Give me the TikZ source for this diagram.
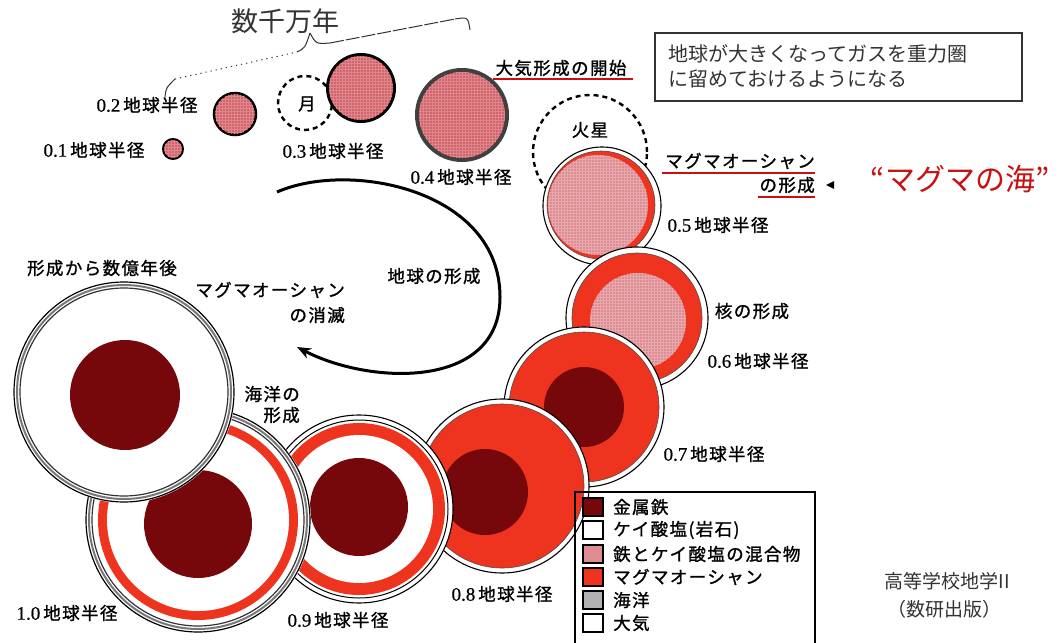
\documentclass[tikz,border=0pt]{standalone}
\usepackage{fontspec}
\setmainfont{Noto Sans CJK JP}
\newfontfamily\labfont[FakeBold=1.2, LetterSpace=8]{Noto Sans CJK JP}
\newfontfamily\numfont[FakeBold=0.6]{Liberation Serif}
\usetikzlibrary{arrows.meta,patterns}
\definecolor{plan}{RGB}{212,100,108}
\definecolor{magma}{RGB}{238,52,30}
\definecolor{mixpink}{RGB}{222,140,146}
\definecolor{ironcore}{RGB}{118,8,12}
\definecolor{oceangray}{RGB}{120,120,120}
\definecolor{notered}{RGB}{200,16,16}
\newcommand\radlab[1]{{\numfont\fontsize{19}{21}\selectfont #1}\,地球半径}
\begin{document}
\begin{tikzpicture}[x=1pt,y=-1pt,
  lbl/.style={inner sep=0pt, font=\labfont\fontsize{17.5}{21}\selectfont},
  thin lbl/.style={inner sep=0pt, text=black!80, font=\fontsize{20}{24}\selectfont},
  planet/.style={fill=plan, draw=black, line width=2.5pt},
  grain/.style={pattern=grid, pattern color=#1},
  grain/.default={plan!78!white},
  orbitdash/.style={draw=black, line width=2.4pt, dash pattern=on 5pt off 4pt},
  shell/.style={fill=white, draw=black, line width=1.1pt},
  magmafill/.style={fill=magma, draw=black!70, line width=0.6pt},
  ironfill/.style={fill=ironcore},
  mixfill/.style={fill=mixpink},
  redline/.style={draw=notered, line width=2pt},
  swatch/.style={draw=black, line width=1.1pt, minimum width=20pt, minimum height=18pt, inner sep=0pt},
]
\useasboundingbox[fill=white] (0,0) rectangle (1059,642);

% --- planetesimals growing toward the proto-Earth
\draw[orbitdash] (305,103) circle[radius=27pt];
\draw[planet, line width=2pt] (173,149) circle[radius=10pt];
\draw[planet] (235,114) circle[radius=21pt];
\draw[planet, line width=3pt] (361,88) circle[radius=33.5pt];
\draw[planet, draw=black!75, line width=4pt] (462,115) circle[radius=45pt];
\fill[grain] (173,149) circle[radius=9pt];
\fill[grain] (235,114) circle[radius=20pt];
\fill[grain] (361,88) circle[radius=32pt];
\fill[grain] (462,115) circle[radius=43pt];

% --- 0.5 Earth radius: magma ocean begins
\draw[orbitdash] (590,152) circle[radius=57pt];
\draw[shell] (602,206) circle[radius=59pt];
\draw[magmafill] (601,205) circle[radius=54pt];
\fill[mixfill] (598,205) circle[radius=50pt];
\fill[grain=mixpink!75!white] (598,205) circle[radius=50pt];

% --- 0.6 Earth radius: core formation
\draw[shell] (637,318) circle[radius=71pt];
\draw[magmafill] (637,318) circle[radius=65pt];
\fill[mixfill] (638,321) circle[radius=48pt];
\fill[grain=mixpink!75!white] (638,321) circle[radius=48pt];

% --- 0.7 Earth radius
\draw[shell] (584,407) circle[radius=80pt];
\draw[magmafill] (584,407) circle[radius=75pt];
\fill[ironfill] (584,407) circle[radius=40pt];

% --- 0.8 Earth radius
\draw[shell] (502,486) circle[radius=87pt];
\draw[magmafill] (502,486) circle[radius=82pt];
\fill[ironfill] (485,492) circle[radius=43pt];

% --- 0.9 Earth radius
\draw[shell] (359,509) circle[radius=94pt];
\draw[black, line width=1pt] (359,509) circle[radius=89pt];
\fill[magma] (359,509) circle[radius=86pt];
\fill[white] (359,509) circle[radius=74pt];
\fill[ironfill] (359,507) circle[radius=49pt];

% --- 1.0 Earth radius: ocean formed
\fill[white] (198,520) circle[radius=113pt];
\draw[black, line width=1.2pt] (198,520) circle[radius=112pt];
\draw[oceangray, line width=2pt] (198,520) circle[radius=109pt];
\draw[black!80, line width=1.2pt] (198,520) circle[radius=106pt];
\fill[magma] (198,520) circle[radius=100pt];
\fill[white] (198,520) circle[radius=91pt];
\fill[ironfill] (198,524) circle[radius=54pt];

% --- several hundred million years later
\fill[white] (124,392) circle[radius=111pt];
\draw[black, line width=1.2pt] (124,392) circle[radius=110pt];
\draw[oceangray, line width=2pt] (124,392) circle[radius=107pt];
\draw[black!80, line width=1.2pt] (124,392) circle[radius=104pt];
\fill[ironfill] (125,395) circle[radius=55pt];

% --- sweeping arrow of Earth's formation
\coordinate (sweepA) at (277,192);
\coordinate (sweepB) at (500,297);
\coordinate (sweepC) at (297,347);
\draw[line width=3pt, -{Stealth[length=14pt,width=11pt]}]
  (sweepA) .. controls (350,160) and (500,190) .. (sweepB)
           .. controls (500,390) and (370,385) .. (sweepC);

% --- brace spanning tens of millions of years
\coordinate (bL) at (165,97);
\coordinate (bLt) at (175,79);
\coordinate (bM) at (310,33);
\coordinate (bR) at (470,30);
\draw[black!80, line width=1pt] (bL) .. controls (166,88) .. (bLt);
\draw[black!80, line width=1pt, dash pattern=on 1.2pt off 4pt] (bLt) -- (297,52);
\draw[black!80, line width=1pt] (297,52) .. controls (305,48) .. (bM);
\draw[black!80, line width=1pt] (bM) .. controls (316,44) .. (330,43);
\draw[black!80, line width=1pt, dash pattern=on 14pt off 2pt] (330,43) -- (455,19);
\draw[black!80, line width=1pt] (455,19) .. controls (468,17) .. (bR);
\node[thin lbl, font=\fontsize{27}{30}\selectfont] (years) at (285,21) {数千万年};

% --- radius labels
\node[lbl] (r01) at (94,150) {\radlab{0.1}};
\node[lbl] (r02) at (147,105) {\radlab{0.2}};
\node[lbl] (r03) at (333,151) {\radlab{0.3}};
\node[lbl] (r04) at (461,177) {\radlab{0.4}};
\node[lbl] (r05) at (718,225) {\radlab{0.5}};
\node[lbl] (r06) at (758,361) {\radlab{0.6}};
\node[lbl] (r07) at (714,454) {\radlab{0.7}};
\node[lbl] (r08) at (502,594) {\radlab{0.8}};
\node[lbl] (r09) at (338,620) {\radlab{0.9}};
\node[lbl] (r10) at (67,613) {\radlab{1.0}};

% --- event labels
\node[lbl] (moon) at (307,104) {月};
\node[lbl] (mars) at (590,130) {火星};
\node[lbl] (atm) at (561,68) {大気形成の開始};
\draw[redline] (493,79) -- (633,79);
\node[lbl, anchor=east] (mo1) at (815,161) {マグマオーシャン};
\node[lbl, anchor=east] (mo2) at (815,185) {の形成};
\draw[redline] (662,173) -- (815,173);
\draw[redline] (758,197) -- (815,197);
\fill[black] (826,185) -- (834,181) -- (834,189) -- cycle;
\node[inner sep=0pt, text=notered, font=\fontsize{30}{34}\selectfont] (sea) at (960,179) {“マグマの海”};
\node[lbl] (coreform) at (752,311) {核の形成};
\node[lbl] (earthform) at (434,276) {地球の形成};
\node[lbl, anchor=east] (moend1) at (345,290) {マグマオーシャン};
\node[lbl, anchor=east] (moend2) at (345,315) {の消滅};
\node[lbl] (later) at (102,268) {形成から数億年後};
\node[lbl, anchor=east] (ocean1) at (300,394) {海洋の};
\node[lbl, anchor=east] (ocean2) at (300,415) {形成};

% --- note box
\draw[black!80, line width=1.2pt] (655,33) rectangle (1022,101);
\node[thin lbl, anchor=west] (note1) at (668,54) {地球が大きくなってガスを重力圏};
\node[thin lbl, anchor=west] (note2) at (668,79) {に留めておけるようになる};

% --- legend
\draw[black, line width=1.1pt] (575,492) rectangle (815,645);
\node[swatch, fill=ironcore] (k1) at (593,507) {};
\node[swatch, fill=white] (k2) at (593,530) {};
\node[swatch, fill=mixpink] (k3) at (593,554) {};
\node[swatch, fill=magma] (k4) at (593,577) {};
\node[swatch, fill=black!30] (k5) at (593,600) {};
\node[swatch, fill=white] (k6) at (593,623) {};
\node[lbl, anchor=west] (l1) at (613,507) {金属鉄};
\node[lbl, anchor=west] (l2) at (613,530) {ケイ酸塩(岩石)};
\node[lbl, anchor=west] (l3) at (613,554) {鉄とケイ酸塩の混合物};
\node[lbl, anchor=west] (l4) at (613,577) {マグマオーシャン};
\node[lbl, anchor=west] (l5) at (613,600) {海洋};
\node[lbl, anchor=west] (l6) at (613,623) {大気};

% --- source
\node[thin lbl, font=\fontsize{19}{22}\selectfont] (src1) at (947,581) {高等学校地学II};
\node[thin lbl, font=\fontsize{19}{22}\selectfont] (src2) at (944,609) {（数研出版）};
\end{tikzpicture}
\end{document}
